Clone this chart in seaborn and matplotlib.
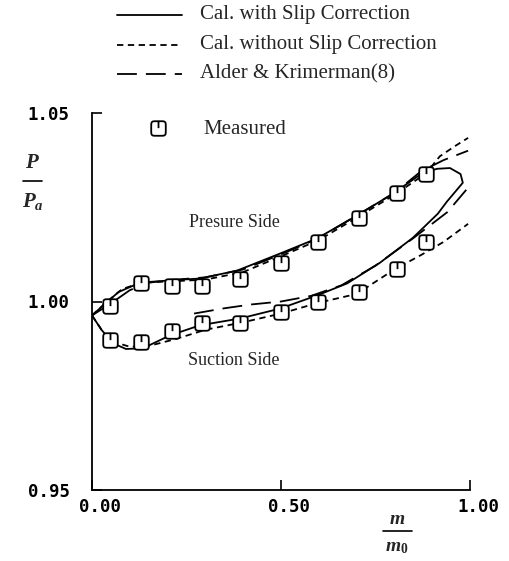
import numpy as np
import matplotlib
matplotlib.use("Agg")
import matplotlib.pyplot as plt
from matplotlib.path import Path
from matplotlib.lines import Line2D
from matplotlib.transforms import ScaledTranslation
import seaborn as sns

# ---------------- data ----------------
# Cal. with slip correction: closed loop (pressure side out, suction side back)
slip_x = [0.0, 0.03, 0.07, 0.127, 0.206, 0.286, 0.384, 0.497, 0.595, 0.701, 0.796, 0.876,
          0.913, 0.947, 0.975, 0.981, 0.960, 0.939, 0.915, 0.849, 0.762, 0.675, 0.595,
          0.497, 0.392, 0.286, 0.206, 0.135, 0.090, 0.056, 0.025, 0.0]
slip_y = [0.9963, 0.9990, 1.0025, 1.0050, 1.0056, 1.0061, 1.0082, 1.0127, 1.0167, 1.0228, 1.0286, 1.0342,
          1.0352, 1.0354, 1.0338, 1.0315, 1.0290, 1.0265, 1.0233, 1.0169, 1.0103, 1.0048, 1.0016,
          0.9981, 0.9955, 0.9937, 0.9910, 0.9876, 0.9874, 0.9889, 0.9925, 0.9963]

# Cal. without slip correction
noslip_ps_x = [0.0, 0.04, 0.08, 0.13, 0.20, 0.30, 0.40, 0.50, 0.60, 0.70, 0.80, 0.884, 0.92, 0.96, 0.995]
noslip_ps_y = [0.9963, 1.0000, 1.0033, 1.0050, 1.0053, 1.0058, 1.0078, 1.0120, 1.0163, 1.0222, 1.0283,
               1.0340, 1.0385, 1.0412, 1.0434]
noslip_ss_x = [0.0, 0.03, 0.06, 0.10, 0.15, 0.22, 0.30, 0.40, 0.50, 0.60, 0.70, 0.80, 0.87, 0.93, 0.995]
noslip_ss_y = [0.9963, 0.9918, 0.9892, 0.9880, 0.9882, 0.9900, 0.9925, 0.9945, 0.9968, 0.9997, 1.0020,
               1.0085, 1.0123, 1.0158, 1.0206]

# Alder & Krimerman(8)
alder_ps_x = [0.0, 0.05, 0.10, 0.15, 0.22, 0.30, 0.40, 0.50, 0.60, 0.70, 0.80, 0.87, 0.93, 0.995]
alder_ps_y = [0.9963, 0.9995, 1.0030, 1.0050, 1.0058, 1.0064, 1.0085, 1.0125, 1.0168, 1.0228, 1.0288,
              1.0345, 1.0375, 1.0400]
alder_ss_x = [0.27, 0.35, 0.42, 0.50, 0.58, 0.66, 0.75, 0.85, 0.94, 0.995]
alder_ss_y = [0.9968, 0.9982, 0.9992, 1.0000, 1.0015, 1.0043, 1.0095, 1.0168, 1.0237, 1.0302]

# Measured
meas_x = [0.048, 0.130, 0.212, 0.291, 0.392, 0.500, 0.598, 0.706, 0.807, 0.884]
meas_ps_y = [0.9989, 1.0050, 1.0040, 1.0040, 1.0061, 1.0101, 1.0159, 1.0222, 1.0288, 1.0339]
meas_ss_y = [0.9897, 0.9892, 0.9921, 0.9942, 0.9942, 0.9971, 1.0000, 1.0026, 1.0085, 1.0159]

x_ticks = [0.0, 0.5, 1.0]
x_ticklabels = ["0.00", "0.50", "1.00"]
y_ticks = [0.95, 1.00, 1.05]
y_ticklabels = ["0.95", "1.00", "1.05"]

legend_labels = ["Cal. with Slip Correction", "Cal. without Slip Correction",
                 "Alder & Krimerman(8)", "Measured"]

# ---------------- style ----------------
sns.set_style("ticks")
plt.rcParams["font.family"] = ["Liberation Serif", "DejaVu Serif"]
plt.rcParams["mathtext.fontset"] = "custom"
plt.rcParams["mathtext.it"] = "Liberation Serif:italic:bold"
plt.rcParams["mathtext.rm"] = "Liberation Serif:bold"

SHORT = (0, (3.5, 2.5))
LONG = (0, (11, 5))
LW = 1.3

# custom "measured" marker: rounded square with a vertical stroke from the top
t = np.linspace(0, 2 * np.pi, 41)
sx = np.sign(np.cos(t)) * np.abs(np.cos(t)) ** (2 / 6)
sy = np.sign(np.sin(t)) * np.abs(np.sin(t)) ** (2 / 6)
verts = list(zip(sx, sy)) + [(0, 1), (0, 0.05)]
codes = [Path.MOVETO] + [Path.LINETO] * (len(t) - 1) + [Path.MOVETO, Path.LINETO]
meas_marker = Path(verts, codes)
MS = 10.5

W, H = 509, 561
fig = plt.figure(figsize=(W / 100, H / 100), dpi=100)
ax = fig.add_axes([92 / W, (H - 490) / H, 378 / W, 377 / H])

sns.lineplot(x=slip_x, y=slip_y, sort=False, estimator=None, color="black", lw=LW, ax=ax)
sns.lineplot(x=noslip_ps_x, y=noslip_ps_y, sort=False, estimator=None, color="black", lw=LW,
             linestyle=SHORT, ax=ax)
sns.lineplot(x=noslip_ss_x, y=noslip_ss_y, sort=False, estimator=None, color="black", lw=LW,
             linestyle=SHORT, ax=ax)
sns.lineplot(x=alder_ps_x, y=alder_ps_y, sort=False, estimator=None, color="black", lw=LW,
             linestyle=LONG, ax=ax)
sns.lineplot(x=alder_ss_x, y=alder_ss_y, sort=False, estimator=None, color="black", lw=LW,
             linestyle=LONG, ax=ax)
sns.lineplot(x=meas_x, y=meas_ps_y, sort=False, estimator=None, linestyle="", marker=meas_marker,
             markersize=MS, markerfacecolor="white", markeredgecolor="black", markeredgewidth=1.3, ax=ax)
sns.lineplot(x=meas_x, y=meas_ss_y, sort=False, estimator=None, linestyle="", marker=meas_marker,
             markersize=MS, markerfacecolor="white", markeredgecolor="black", markeredgewidth=1.3, ax=ax)

ax.set_xlim(0, 1.0)
ax.set_ylim(0.95, 1.05)
ax.set_xticks(x_ticks)
ax.set_xticklabels(x_ticklabels)
ax.set_yticks(y_ticks)
ax.set_yticklabels(y_ticklabels)
ax.tick_params(direction="in", length=7, width=1.2, colors="black")
ax.tick_params(axis="y", pad=16)
ax.tick_params(axis="x", pad=6)
for lab in ax.get_xticklabels() + ax.get_yticklabels():
    lab.set_family("DejaVu Sans Mono")
    lab.set_fontsize(12.5)
    lab.set_fontweight("bold")
for lab in ax.get_xticklabels():
    lab.set_transform(lab.get_transform() + ScaledTranslation(0.08, 0, fig.dpi_scale_trans))
sns.despine(ax=ax)
for s in ["left", "bottom"]:
    ax.spines[s].set_linewidth(1.3)
    ax.spines[s].set_color("black")
ax.set_xlabel("")
ax.set_ylabel("")

# side labels
ax.text(0.378, 1.0209, "Presure Side", ha="center", va="center", fontsize=13)
ax.text(0.375, 0.9844, "Suction Side", ha="center", va="center", fontsize=13)

# axis labels as fractions
def fx(px):
    return px / W
def fy(py):
    return 1 - py / H

fig.text(fx(32), fy(163), r"$P$", ha="center", va="center", fontsize=15)
fig.add_artist(Line2D([fx(23), fx(42)], [fy(181), fy(181)], color="black", lw=1.2))
fig.text(fx(33), fy(202), r"$P_a$", ha="center", va="center", fontsize=15)

fig.text(fx(397), fy(520), r"$m$", ha="center", va="center", fontsize=14)
fig.add_artist(Line2D([fx(383), fx(412)], [fy(531), fy(531)], color="black", lw=1.2))
fig.text(fx(397), fy(548), r"$m_0$", ha="center", va="center", fontsize=14)

# legend (drawn manually to match layout)
leg_styles = ["-", SHORT, LONG]
leg_rows = [15, 45, 74]
for lbl, ls, ry in zip(legend_labels[:3], leg_styles, leg_rows):
    fig.add_artist(Line2D([fx(117), fx(182)], [fy(ry), fy(ry)], color="black", lw=LW, linestyle=ls))
    fig.text(fx(200), fy(ry), lbl, ha="left", va="center", fontsize=15)
fig.add_artist(Line2D([fx(158)], [fy(128)], linestyle="", marker=meas_marker, markersize=MS,
                      markerfacecolor="white", markeredgecolor="black", markeredgewidth=1.3))
fig.text(fx(203), fy(130), legend_labels[3], ha="left", va="center", fontsize=15)

fig.savefig("out.png", dpi=100)
